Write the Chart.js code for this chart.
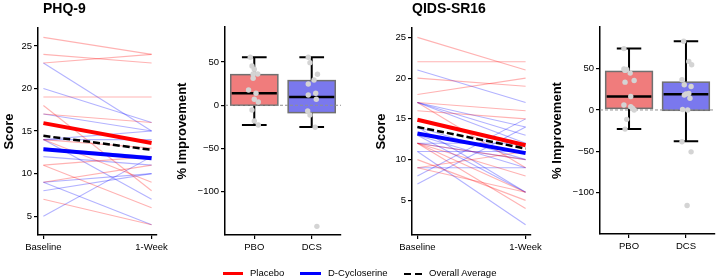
<!DOCTYPE html>
<html>
<head>
<meta charset="utf-8">
<script src="https://cdn.jsdelivr.net/npm/chart.js@4.4.0/dist/chart.umd.min.js"></script>
<style>
  body { margin: 0; background: #fff; }
  #wrap { position: relative; width: 720px; height: 280px; overflow: hidden; font-family: "Liberation Sans", Arial, sans-serif; }
  canvas { position: absolute; top: 0; }
  .lg { position: absolute; top: 267px; font-size: 9.5px; color: #000; line-height: 12px; }
  .sw { position: absolute; top: 272px; height: 3px; }
</style>
</head>
<body>
<div id="wrap">
  <canvas id="phqLines" width="178" height="260" style="left:0px"></canvas>
  <canvas id="phqBox" width="173" height="260" style="left:172px"></canvas>
  <canvas id="qidsLines" width="180" height="260" style="left:372px"></canvas>
  <canvas id="qidsBox" width="172" height="260" style="left:547px"></canvas>

  <div class="sw" style="left:223px;width:20px;background:#ff0000"></div>
  <div class="lg" style="left:250px">Placebo</div>
  <div class="sw" style="left:300px;width:21px;background:#0000ff"></div>
  <div class="lg" style="left:328px">D-Cycloserine</div>
  <div class="sw" style="left:404px;width:18px;height:2px;top:272.5px;background:repeating-linear-gradient(to right,#000 0 7px,transparent 7px 11px)"></div>
  <div class="lg" style="left:429px">Overall Average</div>
</div>
<script>
// timepoints and groups
const timepoints = ['Baseline', '1-Week'];
const groups = ['PBO', 'DCS'];

// PHQ-9 individual scores
const phqPboBase = [26, 24, 23, 19, 18, 17, 14, 14, 11, 11, 9, 7];
const phqPboWeek = [24, 23, 24, 19, 8, 16, 9, 13, 12, 6, 11, 4];
const phqDcsBase = [23, 20, 17, 14, 14, 13, 12, 9, 9, 8, 5, 14];
const phqDcsWeek = [15, 16, 15, 14, 7, 12, 11, 10, 4, 10, 12, 15];
const phqMeanPbo = [15.93, 13.6];
const phqMeanDcs = [12.88, 11.8];
const phqMeanAll = [14.44, 12.8];

// QIDS-SR16 individual scores
const qidsPboBase = [25, 22, 20, 18, 17, 16, 17, 12, 12, 12, 12, 10, 9, 9];
const qidsPboWeek = [21, 22, 19, 20, 16, 15, 9, 6, 8, 4, 10, 5, 6, 11];
const qidsDcsBase = [21, 17, 17, 17, 14, 14, 13, 13, 12, 12, 11, 11, 9, 8, 7];
const qidsDcsWeek = [17, 14, 13, 12, 6, 10, 6, 9, 10, 12, 2, 11, 9, 15, 14];
const qidsMeanPbo = [14.9, 11.76];
const qidsMeanDcs = [13.2, 10.8];
const qidsMeanAll = [14.0, 11.35];

// % improvement, PHQ-9
const phqImpPbo = [55.5, 45.4, 41.6, 36.2, 36.2, 31.2, 17.7, 13.9, 6.9, 3.8, -5.4, -18.2, -22.8];
const phqJitPbo = [-0.07, -0.04, 0.0, -0.02, 0.06, -0.02, -0.1, 0.03, 0.0, 0.07, -0.04, 0.0, 0.07];
const phqImpDcs = [55.5, 49.3, 35.8, 29.2, 24.6, 13.9, 11.9, 6.9, -6.6, -11.2, -25.4, -140];
const phqJitDcs = [-0.06, -0.03, 0.1, 0.04, -0.06, 0.07, -0.06, 0.08, -0.07, -0.03, 0.06, 0.09];
const phqQ1 = [0, -8.5], phqMed = [13.9, 9.6], phqQ3 = [35.4, 28.5];
const phqLo = [-22.8, -25.2], phqHi = [55.5, 55.5];

// % improvement, QIDS-SR16
const qidsImpPbo = [74.4, 49.8, 49, 48, 44.7, 35.8, 33.7, 16.3, 6, 4, 2, 0, -11.4, -23.2];
const qidsJitPbo = [-0.09, -0.09, -0.04, -0.07, 0.02, 0.09, -0.07, 0.03, -0.09, 0.03, 0.06, 0.09, -0.04, -0.07];
const qidsImpDcs = [83.3, 58.9, 54.9, 36.6, 30.5, 28.5, 20, 19.5, 18, 14.2, 0.5, 0, -38.6, -50.8, -115.8];
const qidsJitDcs = [-0.04, 0.05, 0.1, -0.07, -0.03, 0.09, 0.05, 0.0, -0.03, 0.07, -0.06, 0.03, -0.07, 0.09, 0.02];
const qidsQ1 = [2, -0.4], qidsMed = [16.3, 19.1], qidsQ3 = [46.7, 33.7];
const qidsLo = [-23.2, -37.8], qidsHi = [74.4, 83.3];

Chart.defaults.font.family = '"Liberation Sans", Arial, sans-serif';
Chart.defaults.color = '#000';

const tickFont = { size: 9.5 };
const axisGrid = { display: true, drawOnChartArea: false, drawTicks: true, tickLength: 4, color: '#000', lineWidth: 1.2 };
const axisBorder = { display: true, color: '#000', width: 1.5 };

// panel title, left-aligned over the plot area
const titlePlugin = {
    id: 'panelTitle',
    afterDraw(chart, args, opts) {
        const ctx = chart.ctx;
        ctx.save();
        ctx.font = 'bold 14px "Liberation Sans", Arial, sans-serif';
        ctx.fillStyle = '#000';
        ctx.textBaseline = 'middle';
        ctx.fillText(opts.text, chart.chartArea.left + opts.shift, 9.5);
        ctx.restore();
    }
};

function seg(a, b) {
    return [{ x: 0, y: a }, { x: 1, y: b }];
}

function lineChart(id, title, shift, yMin, yMax, yTicks, yWidth, d) {
    const datasets = [
        { data: seg(d.all[0], d.all[1]), borderColor: '#000', borderWidth: 2.5, borderDash: [7, 3] },
        { data: seg(d.dcs[0], d.dcs[1]), borderColor: '#0000ff', borderWidth: 4 },
        { data: seg(d.pbo[0], d.pbo[1]), borderColor: '#ff0000', borderWidth: 4 }
    ];
    d.pboBase.forEach((v, i) => datasets.push({ data: seg(v, d.pboWeek[i]), borderColor: 'rgba(255,0,0,0.3)', borderWidth: 1.1 }));
    d.dcsBase.forEach((v, i) => datasets.push({ data: seg(v, d.dcsWeek[i]), borderColor: 'rgba(0,0,255,0.3)', borderWidth: 1.1 }));
    datasets.forEach(ds => { ds.pointRadius = 0; ds.fill = false; });

    new Chart(document.getElementById(id), {
        type: 'line',
        data: { datasets },
        plugins: [titlePlugin],
        options: {
            responsive: false,
            animation: false,
            layout: { padding: { top: 28, right: 21 } },
            plugins: {
                legend: { display: false },
                tooltip: { enabled: false },
                panelTitle: { text: title, shift: shift }
            },
            scales: {
                x: {
                    type: 'linear', min: -0.05, max: 1.05,
                    afterBuildTicks: s => { s.ticks = timepoints.map((t, i) => ({ value: i })); },
                    afterFit: s => { s.height = 25; },
                    ticks: { font: tickFont, padding: 3, maxRotation: 0, callback: v => timepoints[v] },
                    grid: axisGrid, border: axisBorder
                },
                y: {
                    min: yMin, max: yMax,
                    afterBuildTicks: s => { s.ticks = yTicks.map(v => ({ value: v })); },
                    afterFit: s => { s.width = yWidth; },
                    ticks: { font: tickFont, padding: 2 },
                    grid: axisGrid, border: axisBorder,
                    title: { display: true, text: 'Score', font: { size: 13, weight: 'bold' }, padding: { top: 2, bottom: 0 } }
                }
            }
        }
    });
}

const boxFill = ['#f07c7c', '#7a78ee'];

const boxPlugin = {
    id: 'boxes',
    beforeDatasetsDraw(chart, args, opts) {
        const { ctx, chartArea } = chart;
        const x = chart.scales.x, y = chart.scales.y;
        ctx.save();
        groups.forEach((g, i) => {
            const xl = x.getPixelForValue(i - 0.41), xr = x.getPixelForValue(i + 0.41);
            const cl = x.getPixelForValue(i - 0.215), cr = x.getPixelForValue(i + 0.215);
            const xc = x.getPixelForValue(i);
            const yq1 = y.getPixelForValue(opts.q1[i]), yq3 = y.getPixelForValue(opts.q3[i]);
            const ylo = y.getPixelForValue(opts.lo[i]), yhi = y.getPixelForValue(opts.hi[i]);
            const ymed = y.getPixelForValue(opts.med[i]);
            // whiskers
            ctx.strokeStyle = '#000';
            ctx.lineWidth = 2;
            ctx.beginPath();
            ctx.moveTo(xc, yq3); ctx.lineTo(xc, yhi);
            ctx.moveTo(xc, yq1); ctx.lineTo(xc, ylo);
            ctx.moveTo(cl, yhi); ctx.lineTo(cr, yhi);
            ctx.moveTo(cl, ylo); ctx.lineTo(cr, ylo);
            ctx.stroke();
            // box
            ctx.fillStyle = boxFill[i];
            ctx.fillRect(xl, yq3, xr - xl, yq1 - yq3);
            ctx.strokeStyle = '#707070';
            ctx.lineWidth = 1.5;
            ctx.strokeRect(xl, yq3, xr - xl, yq1 - yq3);
            // median
            ctx.strokeStyle = '#000';
            ctx.lineWidth = 2.5;
            ctx.beginPath();
            ctx.moveTo(xl + 1, ymed); ctx.lineTo(xr - 1, ymed);
            ctx.stroke();
        });
        // zero reference
        const y0 = y.getPixelForValue(0);
        ctx.strokeStyle = '#909090';
        ctx.lineWidth = 1;
        ctx.setLineDash([3, 2]);
        ctx.beginPath();
        ctx.moveTo(chartArea.left, y0); ctx.lineTo(chartArea.right, y0);
        ctx.stroke();
        ctx.restore();
    }
};

function boxChart(id, yMin, yMax, padTop, xHeight, d) {
    const pts = (vals, jit, g) => vals.map((v, i) => ({ x: g + jit[i], y: v }));
    new Chart(document.getElementById(id), {
        type: 'scatter',
        data: {
            datasets: [{
                data: pts(d.impPbo, d.jitPbo, 0).concat(pts(d.impDcs, d.jitDcs, 1)),
                backgroundColor: '#d4d4d4', borderWidth: 0, pointRadius: 2.7
            }]
        },
        plugins: [boxPlugin],
        options: {
            responsive: false,
            animation: false,
            layout: { padding: { top: padTop, right: 2 } },
            plugins: {
                legend: { display: false },
                tooltip: { enabled: false },
                boxes: { q1: d.q1, med: d.med, q3: d.q3, lo: d.lo, hi: d.hi }
            },
            scales: {
                x: {
                    type: 'linear', min: -0.51, max: 1.51,
                    afterBuildTicks: s => { s.ticks = groups.map((g, i) => ({ value: i })); },
                    afterFit: s => { s.height = xHeight; },
                    ticks: { font: tickFont, padding: 3, callback: v => groups[v] },
                    grid: axisGrid, border: axisBorder
                },
                y: {
                    min: yMin, max: yMax,
                    afterBuildTicks: s => { s.ticks = [-100, -50, 0, 50].map(v => ({ value: v })); },
                    afterFit: s => { s.width = 53; },
                    ticks: { font: tickFont, padding: 2, callback: v => String(v).replace('-', '\u2212') },
                    grid: axisGrid, border: axisBorder,
                    title: { display: true, text: '% Improvement', font: { size: 13, weight: 'bold' }, padding: { top: 3, bottom: 0 } }
                }
            }
        }
    });
}

lineChart('phqLines', 'PHQ-9', 5, 2.8, 27.1, [5, 10, 15, 20, 25], 38, {
    all: phqMeanAll, dcs: phqMeanDcs, pbo: phqMeanPbo,
    pboBase: phqPboBase, pboWeek: phqPboWeek, dcsBase: phqDcsBase, dcsWeek: phqDcsWeek
});
lineChart('qidsLines', 'QIDS-SR16', 0, 0.75, 26.15, [5, 10, 15, 20, 25], 40, {
    all: qidsMeanAll, dcs: qidsMeanDcs, pbo: qidsMeanPbo,
    pboBase: qidsPboBase, pboWeek: qidsPboWeek, dcsBase: qidsDcsBase, dcsWeek: qidsDcsWeek
});
boxChart('phqBox', -150, 90.5, 27, 25, {
    impPbo: phqImpPbo, jitPbo: phqJitPbo, impDcs: phqImpDcs, jitDcs: phqJitDcs,
    q1: phqQ1, med: phqMed, q3: phqQ3, lo: phqLo, hi: phqHi
});
boxChart('qidsBox', -150.4, 100.6, 27, 26, {
    impPbo: qidsImpPbo, jitPbo: qidsJitPbo, impDcs: qidsImpDcs, jitDcs: qidsJitDcs,
    q1: qidsQ1, med: qidsMed, q3: qidsQ3, lo: qidsLo, hi: qidsHi
});
</script>
</body>
</html>
